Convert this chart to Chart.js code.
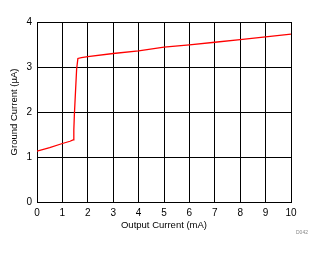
<!DOCTYPE html>
<html>
<head>
<meta charset="utf-8">
<script src="https://cdn.jsdelivr.net/npm/chart.js@4"></script>
<style>
html,body{margin:0;padding:0;background:#fff;}
#wrap{position:relative;width:324px;height:254px;}
#note{position:absolute;left:296px;top:229px;font:5px "Liberation Sans",Arial,sans-serif;color:#888;}
</style>
</head>
<body>
<div id="wrap"><canvas id="c" width="324" height="254"></canvas><div id="note">D042</div></div>
<script>
const outputCurrent = [0, 0.5, 1.0, 1.3, 1.42, 1.45, 1.47, 1.52, 1.56, 1.61, 1.75, 2, 3, 4, 5, 6, 7, 8, 9, 10];
const groundCurrent = [1.13, 1.21, 1.30, 1.35, 1.38, 1.6, 1.92, 2.5, 2.95, 3.19, 3.21, 3.23, 3.30, 3.36, 3.44, 3.49, 3.55, 3.61, 3.67, 3.73];
const xTitle = 'Output Current (mA)';
const yTitle = 'Ground Current (µA)';

const font = {family: '"Liberation Sans", Arial, sans-serif', size: 10};
const tfont = {family: '"Liberation Sans", Arial, sans-serif', size: 9.5};
new Chart(document.getElementById('c'), {
  type: 'line',
  data: {
    datasets: [{
      data: outputCurrent.map((x, i) => ({x, y: groundCurrent[i]})),
      borderColor: '#ff0000',
      borderWidth: 1.3,
      pointRadius: 0,
      tension: 0,
      fill: false
    }]
  },
  options: {
    responsive: false,
    animation: false,
    layout: {padding: {top: 22, right: 33, left: 0, bottom: 0}},
    plugins: {legend: {display: false}, tooltip: {enabled: false}},
    scales: {
      x: {
        type: 'linear', min: 0, max: 10,
        ticks: {stepSize: 1, color: '#000', font, padding: 5, maxRotation: 0},
        grid: {color: '#000', lineWidth: 1, drawTicks: false},
        border: {color: '#000', width: 1},
        title: {display: true, text: xTitle, color: '#000', font: tfont, padding: {top: 1, bottom: 23}},
        afterFit: s => { s.height = 52; }
      },
      y: {
        min: 0, max: 4,
        ticks: {stepSize: 1, color: '#000', font, padding: 5},
        grid: {color: '#000', lineWidth: 1, drawTicks: false},
        border: {color: '#000', width: 1},
        title: {display: true, text: yTitle, color: '#000', font: tfont, padding: {top: 9, bottom: 0}},
        afterFit: s => { s.width = 37; }
      }
    }
  }
});
</script>
</body>
</html>
